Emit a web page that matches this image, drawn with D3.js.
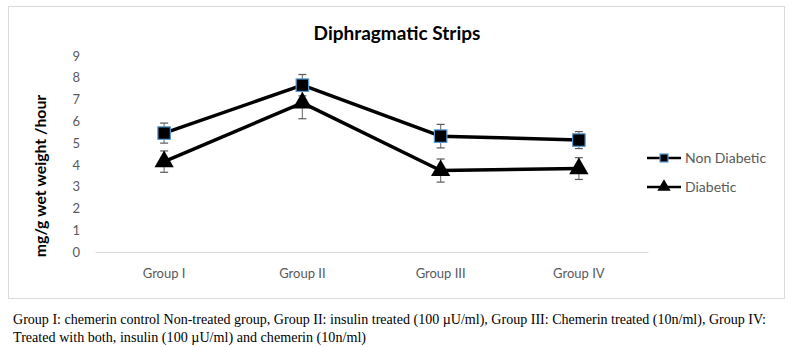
<!DOCTYPE html>
<html>
<head>
<meta charset="utf-8">
<script src="https://cdn.jsdelivr.net/npm/d3@7"></script>
<style>
  body { margin: 0; background: #fff; }
  svg { display: block; }
</style>
</head>
<body>
<script>
const width = 793;
const height = 347;
const margin = {top: 56, right: 145, bottom: 95, left: 95};

const groups = ['Group I', 'Group II', 'Group III', 'Group IV'];
const yTicks = [0, 1, 2, 3, 4, 5, 6, 7, 8, 9];
const seriesNames = ['Non Diabetic', 'Diabetic'];
const nonDiabetic = [5.46, 7.66, 5.32, 5.14];
const nonDiabeticErr = [0.46, 0.49, 0.54, 0.39];
const diabetic = [4.15, 6.85, 3.74, 3.83];
const diabeticErr = [0.49, 0.73, 0.53, 0.5];
const title = 'Diphragmatic Strips';
const yLabel = 'mg/g wet weight /hour';
const caption = [
  'Group I: chemerin control Non-treated group, Group II: insulin treated (100 \u00b5U/ml), Group III: Chemerin treated (10n/ml), Group IV:',
  'Treated with both, insulin (100 \u00b5U/ml) and chemerin (10n/ml)'
];

const font = 'Lato, "Open Sans", sans-serif';

const svg = d3.select('body').append('svg')
  .attr('width', width)
  .attr('height', height);

// chart frame
svg.append('rect')
  .attr('x', 8.5).attr('y', 6.5)
  .attr('width', 776).attr('height', 292)
  .attr('fill', '#fff')
  .attr('stroke', '#d9d9d9');

const x = d3.scaleBand()
  .domain(groups)
  .range([margin.left, 648]);

const y = d3.scaleLinear()
  .domain([0, 9])
  .range([252, 56]);

// x axis baseline + labels
const xAxis = g => g
  .attr('transform', `translate(0,${y(0)})`)
  .call(d3.axisBottom(x).tickSize(0).tickPadding(17))
  .call(g => g.select('.domain').attr('stroke', '#d9d9d9'))
  .call(g => g.selectAll('text')
    .attr('fill', '#595959')
    .attr('font-size', '13px')
    .attr('font-family', font));

const yAxis = g => g
  .attr('transform', `translate(${margin.left},0)`)
  .call(d3.axisLeft(y).tickValues(yTicks).tickSize(0).tickPadding(15))
  .call(g => g.select('.domain').remove())
  .call(g => g.selectAll('text')
    .attr('fill', '#595959')
    .attr('font-size', '13px')
    .attr('font-family', font));

svg.append('g').call(xAxis);
svg.append('g').call(yAxis);

// title
svg.append('text')
  .attr('x', 397).attr('y', 40)
  .attr('text-anchor', 'middle')
  .attr('font-family', font)
  .attr('font-weight', 'bold')
  .attr('font-size', '19px')
  .attr('fill', '#000')
  .text(title);

// y label
svg.append('text')
  .attr('transform', 'translate(46,176) rotate(-90)')
  .attr('text-anchor', 'middle')
  .attr('font-family', font)
  .attr('font-weight', 'bold')
  .attr('font-size', '15.8px')
  .attr('fill', '#000')
  .text(yLabel);

const cx = d => x(d) + x.bandwidth() / 2;

const series = [
  {name: seriesNames[0], values: nonDiabetic, err: nonDiabeticErr, shape: 'square'},
  {name: seriesNames[1], values: diabetic, err: diabeticErr, shape: 'triangle'}
];

const line = d3.line()
  .x((d, i) => cx(groups[i]))
  .y(d => y(d));

function drawMarker(g, shape, px, py, s) {
  if (shape === 'square') {
    g.append('rect')
      .attr('x', px - s / 2).attr('y', py - s / 2)
      .attr('width', s).attr('height', s)
      .attr('fill', '#000')
      .attr('stroke', '#5b9bd5')
      .attr('stroke-width', 1.2);
  } else {
    g.append('path')
      .attr('d', d3.symbol().type(d3.symbolTriangle).size(s * s * 0.95)())
      .attr('transform', `translate(${px},${py})`)
      .attr('fill', '#000');
  }
}

for (const s of series) {
  const g = svg.append('g');
  // error bars
  s.values.forEach((v, i) => {
    const px = cx(groups[i]);
    const top = y(v + s.err[i]);
    const bot = y(v - s.err[i]);
    g.append('line')
      .attr('x1', px).attr('x2', px)
      .attr('y1', top).attr('y2', bot)
      .attr('stroke', '#7f7f7f').attr('stroke-width', 1.2);
    [top, bot].forEach(yy => g.append('line')
      .attr('x1', px - 4).attr('x2', px + 4)
      .attr('y1', yy).attr('y2', yy)
      .attr('stroke', '#595959').attr('stroke-width', 1.2));
  });
}

for (const s of series) {
  const g = svg.append('g');
  g.append('path')
    .datum(s.values)
    .attr('fill', 'none')
    .attr('stroke', '#000')
    .attr('stroke-width', 3.5)
    .attr('stroke-linejoin', 'round')
    .attr('d', line);
  s.values.forEach((v, i) => {
    drawMarker(g, s.shape, cx(groups[i]), y(v), s.shape === 'square' ? 12.5 : 13);
  });
}

// legend
series.forEach((s, i) => {
  const ly = 158 + i * 29;
  const g = svg.append('g');
  g.append('line')
    .attr('x1', 647).attr('x2', 681)
    .attr('y1', ly).attr('y2', ly)
    .attr('stroke', '#000').attr('stroke-width', 2.5);
  drawMarker(g, s.shape, 664, ly, s.shape === 'square' ? 8 : 9);
  g.append('text')
    .attr('x', 685).attr('y', ly + 5)
    .attr('font-family', font)
    .attr('font-size', '14px')
    .attr('fill', '#595959')
    .text(s.name);
});

// caption
caption.forEach((t, i) => {
  svg.append('text')
    .attr('x', 13).attr('y', 324 + i * 18)
    .attr('font-family', '"Liberation Serif", "Times New Roman", serif')
    .attr('font-size', '14px')
    .attr('fill', '#000')
    .attr('textLength', i === 0 ? 753 : 353)
    .attr('lengthAdjust', 'spacingAndGlyphs')
    .text(t);
});
</script>
</body>
</html>
